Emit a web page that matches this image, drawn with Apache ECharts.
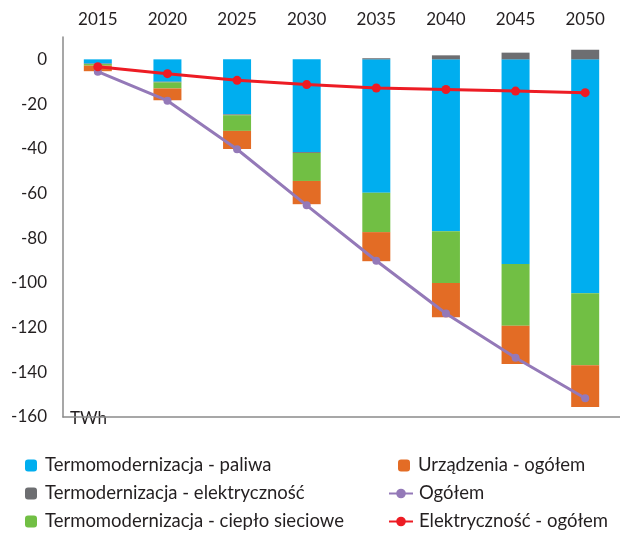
<!DOCTYPE html>
<html>
<head>
<meta charset="utf-8">
<script src="https://cdn.jsdelivr.net/npm/echarts@6/dist/echarts.min.js"></script>
<style>
html,body{margin:0;padding:0;background:#fff;}
#chart{width:620px;height:533px;}
</style>
</head>
<body>
<div id="chart"></div>
<script>
var years = ['2015','2020','2025','2030','2035','2040','2045','2050'];
var termoPaliwa = [-1.9, -10.0, -24.6, -41.5, -59.7, -76.9, -91.6, -104.6];
var termoElektr = [-0.2, -0.3, -0.4, -0.4, 0.5, 1.8, 3.0, 4.3];
var termoCieplo = [-0.7, -2.7, -7.0, -12.5, -17.6, -23.1, -27.6, -32.3];
var urzadzenia = [-2.5, -5.3, -8.1, -10.4, -13.0, -15.4, -17.1, -18.6];
var ogolem = [-5.5, -18.5, -40.2, -65.3, -90.1, -113.7, -133.5, -151.6];
var elektrycznosc = [-3.3, -6.4, -9.4, -11.3, -12.8, -13.5, -14.2, -14.9];
var yTicks = [-160, -140, -120, -100, -80, -60, -40, -20, 0];
var names = ['Termomodernizacja - paliwa','Termodernizacja - elektryczność','Termomodernizacja - ciepło sieciowe',
             'Urządzenia - ogółem','Ogółem','Elektryczność - ogółem'];

var FONT = 'Lato';
var TXT = '#231F20';
var chart = echarts.init(document.getElementById('chart'), null, {renderer:'canvas'});
function bar(name, data, color){
  return {name:name, type:'bar', stack:'s', data:data, barWidth:28,
    itemStyle:{color:color}, xAxisIndex:0, yAxisIndex:0};
}
function leg(name, left, top, w, pad){
  return {orient:'horizontal', left:left, top:top, itemWidth:w, itemHeight:12, padding:0,
    textStyle:{fontFamily:FONT, fontSize:18.5, color:TXT, padding:[0,0,0,pad]}, data:[name]};
}
var rowTops = [456, 484, 512];
chart.setOption({
  animation:false,
  textStyle:{fontFamily:FONT, color:TXT},
  grid:{left:63, right:-6, top:37, bottom:116, containLabel:false},
  xAxis:[{
    type:'category', data:years, position:'top',
    axisLine:{show:false}, axisTick:{show:false},
    axisLabel:{fontFamily:FONT, fontSize:17, color:TXT, margin:9}
  },{
    type:'category', data:years, position:'bottom',
    axisLine:{show:true, onZero:true, lineStyle:{color:'#8a8a8a', width:1.5}},
    axisTick:{show:false}, axisLabel:{show:false}
  }],
  yAxis:{
    type:'value', min:-160, max:10, interval:20,
    axisLine:{show:true, lineStyle:{color:'#8a8a8a', width:1.5}},
    axisTick:{show:false}, splitLine:{show:false},
    axisLabel:{fontFamily:FONT, fontSize:17, color:TXT, margin:16,
      formatter:function(v){ return yTicks.indexOf(v) >= 0 ? String(v) : ''; }}
  },
  legend:[
    leg(names[0], 25, rowTops[0], 12, 3),
    leg(names[1], 25, rowTops[1], 12, 3),
    leg(names[2], 25, rowTops[2], 12, 3),
    leg(names[3], 398, rowTops[0], 12, 3),
    leg(names[4], 388, rowTops[1], 24, 1),
    leg(names[5], 388, rowTops[2], 24, 1)
  ],
  graphic:[{type:'text', left:70, top:410, style:{text:'TWh', font:'17px Lato', fill:TXT}}],
  series:[
    bar(names[0], termoPaliwa, '#00AEEF'),
    bar(names[1], termoElektr, '#6D6E71'),
    bar(names[2], termoCieplo, '#71BF44'),
    bar(names[3], urzadzenia, '#E36C25'),
    {name:names[4], type:'line', data:ogolem, symbol:'circle', symbolSize:8,
      lineStyle:{color:'#9479B8', width:3}, itemStyle:{color:'#9479B8'}, z:5},
    {name:names[5], type:'line', data:elektrycznosc, symbol:'circle', symbolSize:9,
      lineStyle:{color:'#ED1C24', width:3}, itemStyle:{color:'#ED1C24'}, z:6}
  ]
});
</script>
</body>
</html>
